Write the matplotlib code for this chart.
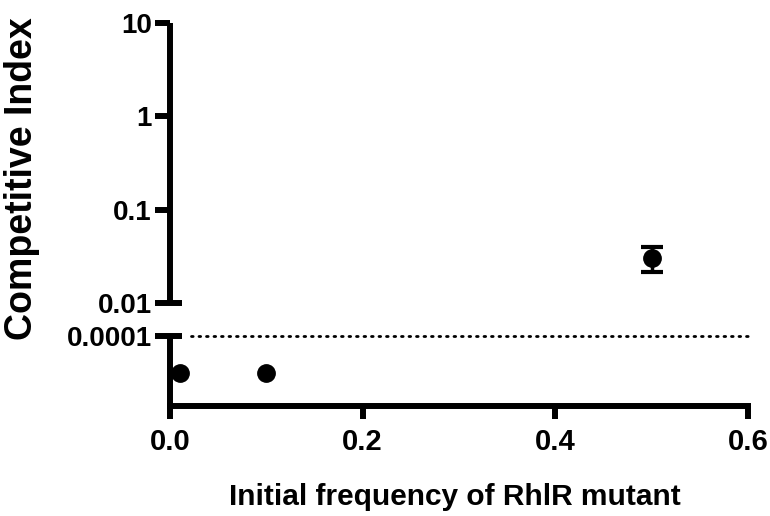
import matplotlib
matplotlib.use("Agg")
import matplotlib.pyplot as plt
import numpy as np

# Data
freq = [0.01, 0.1, 0.5]
ci_mean = [3e-5, 3e-5, 0.030]   # first two plotted below detection limit
ci_low = [None, None, 0.0214]
ci_high = [None, None, 0.040]
detection_limit = 1e-4

upper_ticks = [0.01, 0.1, 1, 10]
upper_labels = ["0.01", "0.1", "1", "10"]
lower_ticks = [1e-4]
lower_labels = ["0.0001"]
x_ticks = [0.0, 0.2, 0.4, 0.6]
x_labels = ["0.0", "0.2", "0.4", "0.6"]

plt.rcParams['font.family'] = ['Liberation Sans', 'DejaVu Sans']
plt.rcParams['font.weight'] = 'bold'

W, H = 770, 516
fig = plt.figure(figsize=(W / 100, H / 100), dpi=100)

L = 170 / W
Wd = 578 / W
ax_up = fig.add_axes([L, 1 - 303 / H, Wd, 280 / H])
ax_lo = fig.add_axes([L, 1 - 406 / H, Wd, 70 / H])

lw_sp = 4.3
for ax in (ax_up, ax_lo):
    ax.set_xlim(0, 0.6)
    ax.set_yscale('log')
    ax.spines['top'].set_visible(False)
    ax.spines['right'].set_visible(False)
    ax.spines['left'].set_linewidth(lw_sp)
    ax.spines['bottom'].set_linewidth(lw_sp)
    ax.spines['left'].set_capstyle('butt')
    ax.patch.set_alpha(0)
    ax.minorticks_off()
    ax.tick_params(axis='y', which='major', direction='out', length=11, width=lw_sp,
                   labelsize=20, pad=2)

ax_up.set_ylim(0.01, 10)
ax_up.spines['bottom'].set_visible(False)
ax_up.set_xticks([])
ax_up.set_yticks(upper_ticks)
ax_up.set_yticklabels(upper_labels)

ax_lo.set_ylim(1e-5, 1e-4)
ax_lo.set_yticks(lower_ticks)
ax_lo.set_yticklabels(lower_labels)
ax_lo.set_xticks(x_ticks)
ax_lo.set_xticklabels(x_labels)
ax_lo.tick_params(axis='x', direction='out', length=9, width=lw_sp, labelsize=21, pad=7)
for lab in ax_up.get_yticklabels() + ax_lo.get_yticklabels() + ax_lo.get_xticklabels():
    lab.set_fontweight('bold')

# Break marks: extend the 0.01 and 0.0001 ticks to the inside of the spine
tr_up = ax_up.get_yaxis_transform()
ax_up.plot([0, 0.021], [0.01, 0.01], transform=tr_up, color='black', lw=lw_sp,
           clip_on=False, solid_capstyle='butt')
tr_lo = ax_lo.get_yaxis_transform()
ax_lo.plot([0, 0.021], [1e-4, 1e-4], transform=tr_lo, color='black', lw=lw_sp,
           clip_on=False, solid_capstyle='butt')

# Detection limit line
ax_lo.plot([0.022, 0.6], [detection_limit, detection_limit], color='black', lw=2.0,
           linestyle=(0, (0.6, 2.1)), dash_capstyle='round', clip_on=False)

# Points below detection
ax_lo.plot(freq[:2], ci_mean[:2], 'o', color='black', markersize=12.5, clip_on=False)

# Point with error bar
yerr = [[ci_mean[2] - ci_low[2]], [ci_high[2] - ci_mean[2]]]
ax_up.errorbar([freq[2]], [ci_mean[2]], yerr=yerr, fmt='o', color='black',
               markersize=12.5, capsize=8, capthick=3, elinewidth=2.5)

fig.text((170 + 285) / W, 1 - 497 / H, "Initial frequency of RhlR mutant",
         ha='center', va='center', fontsize=21.5, fontweight='bold')
fig.text(22 / W, 1 - 179 / H, "Competitive Index", ha='center', va='center',
         rotation=90, fontsize=27, fontweight='bold')

fig.savefig("out.png", dpi=100)
